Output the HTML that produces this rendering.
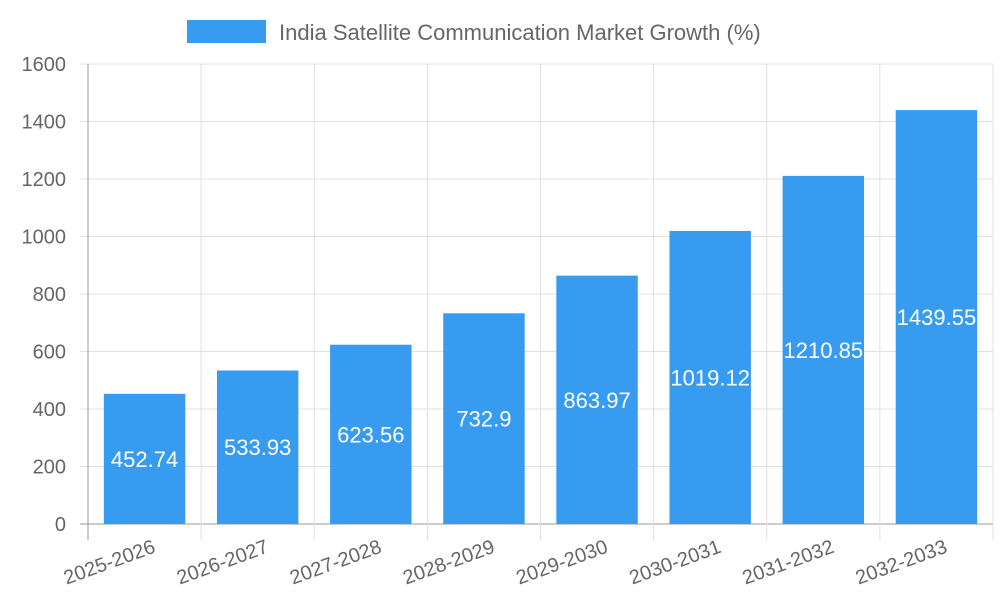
<!DOCTYPE html>
<html><head><meta charset="utf-8"><style>
html,body{margin:0;padding:0;background:#fff;}
svg{display:block;font-family:"Liberation Sans",sans-serif;}
</style></head><body>
<svg id="chart" width="1000" height="600" viewBox="0 0 1000 600">
<g id="legend">
<rect x="187" y="20" width="79" height="23" fill="#379cf0"></rect>
<text x="279" y="40" font-size="22" fill="#666">India Satellite Communication Market Growth (%)</text>
</g>
<g id="grid"></g>
<g id="bars"></g>
<g id="xlabels"></g>
<g id="ylabels"></g>
</svg>
<script>
const categories = ["2025-2026","2026-2027","2027-2028","2028-2029","2029-2030","2030-2031","2031-2032","2032-2033"];
const values = [452.74,533.93,623.56,732.9,863.97,1019.12,1210.85,1439.55];
const yTicks = [0,200,400,600,800,1000,1200,1400,1600];
const NS="http://www.w3.org/2000/svg";
const L=88,R=993,T=64,B=524,yMax=1600;
const bw=(R-L)/categories.length;
const y=v=>B-(v/yMax)*(B-T);
const x=i=>L+i*bw;
function mk(tag,attrs,parent){const e=document.createElementNS(NS,tag);for(const k in attrs)e.setAttribute(k,attrs[k]);parent.appendChild(e);return e;}
const grid=document.getElementById('grid'),bars=document.getElementById('bars'),xl=document.getElementById('xlabels'),yl=document.getElementById('ylabels');
yTicks.forEach(t=>{
  const ln=mk('line',{x1:80,x2:R,y1:y(t),y2:y(t),stroke:t===0?'#999':'#e0e0e0','stroke-width':1},grid);
  
  
  const tx=mk('text',{x:66,y:y(t)+7,'font-size':20,fill:'#666','text-anchor':'end'},yl);
  tx.textContent=t;
  
  
});
for(let i=0;i<=categories.length;i++){
  const ln=mk('line',{x1:x(i),x2:x(i),y1:T,y2:B+16,stroke:i===0?'#999':'#e0e0e0','stroke-width':1},grid);
  
  
}
categories.forEach((c,i)=>{
  const w=bw*0.72, cx=x(i)+bw/2, v=values[i];
  const r=mk('rect',{x:cx-w/2,y:y(v),width:w,height:B-y(v),fill:'#379cf0'},bars);
  
  
  const t=mk('text',{x:cx,y:(y(v)+B)/2+8,'font-size':22,fill:'#fff','text-anchor':'middle'},bars);
  t.textContent=v;
  
  
  const lx=cx+12, ly=B+28;
  const xt=mk('text',{x:lx,y:ly,'font-size':20,fill:'#666','text-anchor':'end',transform:`rotate(-20 ${lx} ${ly})`},xl);
  xt.textContent=c;
  
  
});
</script>
</body></html>
